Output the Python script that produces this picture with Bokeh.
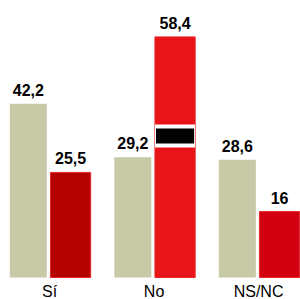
from bokeh.plotting import figure
from bokeh.models import ColumnDataSource, FactorRange, Range1d
from bokeh.transform import dodge
from bokeh.core.properties import value
from bokeh.embed import file_html
from bokeh.resources import INLINE

# ---- data ----
categorias = ["Sí", "No", "NS/NC"]
serie_gris = [42.2, 29.2, 28.6]
serie_roja = [25.5, 58.4, 16]
marca_categorias = ["No"]
marca_valores = [34.35]

# ---- styles ----
color_gris = "#c8c9a7"
colores_rojos = ["#b50000", "#e8141a", "#d20010"]

def etiqueta(v):
    return f"{v:g}".replace(".", ",")

src = ColumnDataSource(dict(
    cat=categorias,
    gris=serie_gris,
    roja=serie_roja,
    base=[0] * len(categorias),
    lab_gris=[etiqueta(v) for v in serie_gris],
    lab_roja=[etiqueta(v) for v in serie_roja],
    col_roja=colores_rojos,
))

half = 1.83
band = 0.97
marca_src = ColumnDataSource(dict(
    cat=marca_categorias,
    bot=[v - half for v in marca_valores],
    top=[v + half for v in marca_valores],
    wbot=[v - half - band for v in marca_valores],
    wtop=[v + half + band for v in marca_valores],
))

p = figure(
    x_range=FactorRange(*categorias, range_padding=-0.0646, range_padding_units="absolute"),
    y_range=Range1d(-5.34, 67.23),
    width=300, height=299,
    output_backend="svg", toolbar_location=None,
    min_border=0,
)
p.outline_line_color = None
p.grid.visible = False
p.axis.visible = False
p.background_fill_color = "white"
p.border_fill_color = "white"

shift = 0.034
xg = dodge("cat", -0.203 + shift, range=p.x_range)
xr = dodge("cat", 0.201 + shift, range=p.x_range)
xc = dodge("cat", shift, range=p.x_range)

p.vbar(x=xg, top="gris", width=0.354, source=src,
       fill_color=color_gris, line_color=None)
p.vbar(x=xr, top="roja", width=0.385, source=src,
       fill_color="col_roja", line_color="#e82828", line_width=1)

xm = dodge("cat", 0.201 + shift, range=p.x_range)
p.vbar(x=xm, bottom="wbot", top="wtop", width=0.385,
       source=marca_src, fill_color="white", line_color=None)
p.vbar(x=xm, bottom="bot", top="top", width=0.365,
       source=marca_src, fill_color="black", line_color=None)

for xx, yy, lab in [(xg, "gris", "lab_gris"), (xr, "roja", "lab_roja")]:
    p.text(x=xx, y=yy, text=lab, source=src, y_offset=-14,
           text_align="center", text_baseline="alphabetic",
           text_font=value("Liberation Sans"), text_font_style="bold",
           text_font_size="16px", text_color="black")

# category labels below the baseline
p.text(x=xc, y="base", text="cat", source=src, y_offset=14,
       text_align="center", text_baseline="middle",
       text_font=value("Liberation Sans"), text_font_size="16px",
       text_color="black")

open("out.html", "w").write(file_html(p, INLINE))
